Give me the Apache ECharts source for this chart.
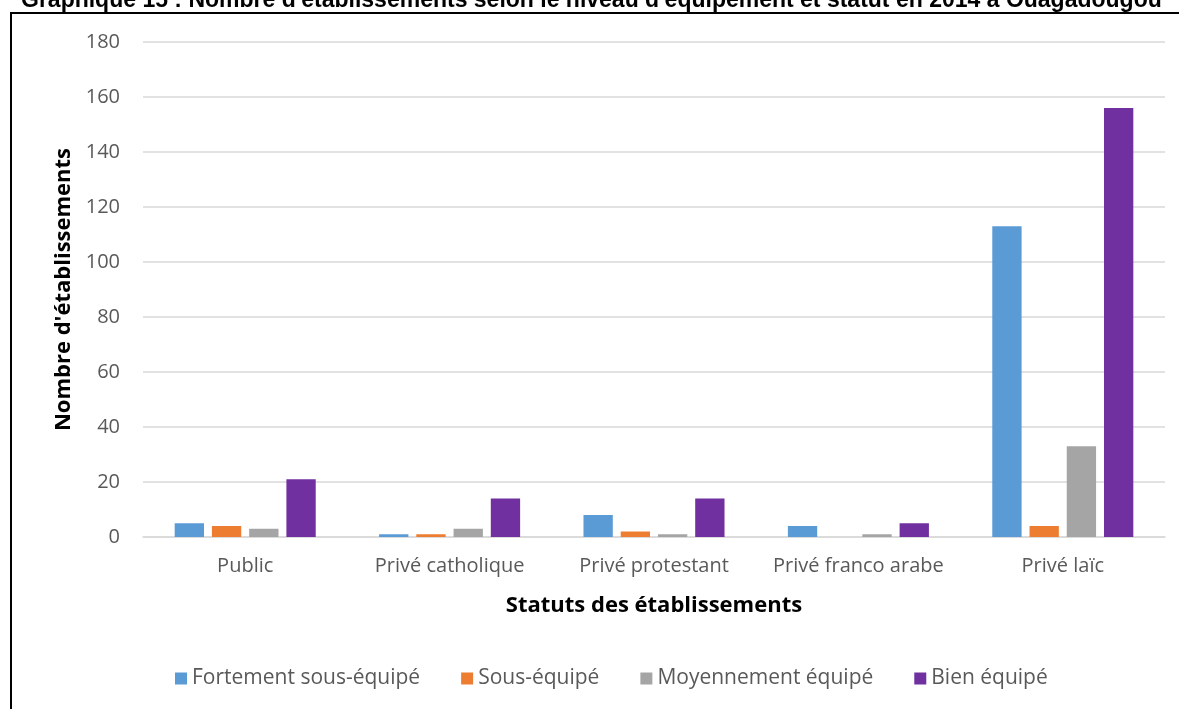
<!DOCTYPE html>
<html>
<head>
<meta charset="utf-8">
<script src="https://cdn.jsdelivr.net/npm/echarts@6/dist/echarts.min.js"></script>
<style>
  html, body { margin: 0; padding: 0; background: #fff; }
  #chart { width: 1179px; height: 709px; }
</style>
</head>
<body>
<div id="chart"></div>
<script>
// Établissements par statut et niveau d'équipement
const categories = ['Public', 'Privé catholique', 'Privé protestant', 'Privé franco arabe', 'Privé laïc'];
const fortementSousEquipe = [5, 1, 8, 4, 113];
const sousEquipe = [4, 1, 2, 0, 4];
const moyennementEquipe = [3, 3, 1, 1, 33];
const bienEquipe = [21, 14, 14, 5, 156];
const seriesNames = ['Fortement sous-équipé', 'Sous-équipé', 'Moyennement équipé', 'Bien équipé'];
const seriesColors = ['#5b9bd5', '#ed7d31', '#a5a5a5', '#7030a0'];

const font = '"Open Sans", "Liberation Sans", sans-serif';
const chart = echarts.init(document.getElementById('chart'), null, { renderer: 'canvas' });

const dataSets = [fortementSousEquipe, sousEquipe, moyennementEquipe, bienEquipe];

chart.setOption({
  backgroundColor: '#ffffff',
  animation: false,
  title: {
    text: "Graphique 15 : Nombre d'établissements selon le niveau d'équipement et statut en 2014 à Ouagadougou",
    left: 16,
    top: -16,
    textStyle: { fontFamily: '"Liberation Sans", Arial, sans-serif', fontWeight: 'bold', fontSize: 23, color: '#000' }
  },
  graphic: [{
    type: 'rect',
    shape: { x: 11, y: 13, width: 1200, height: 750 },
    style: { fill: 'none', stroke: '#000', lineWidth: 2 },
    silent: true,
    z: -1
  }],
  grid: { left: 143, right: 14, top: 42, bottom: 172, containLabel: false },
  legend: {
    data: seriesNames,
    bottom: 15,
    left: 170,
    itemWidth: 12,
    itemHeight: 12,
    itemGap: 41,
    icon: 'rect',
    textStyle: { fontFamily: font, fontSize: 21, color: '#595959' }
  },
  xAxis: {
    type: 'category',
    data: categories,
    name: 'Statuts des établissements',
    nameLocation: 'middle',
    nameGap: 58,
    nameTextStyle: { fontFamily: font, fontWeight: 'bold', fontSize: 22, color: '#000' },
    axisLine: { lineStyle: { color: '#d9d9d9', width: 1.5 } },
    axisTick: { show: false },
    axisLabel: { interval: 0, fontFamily: font, fontSize: 20, color: '#595959', margin: 19 }
  },
  yAxis: {
    type: 'value',
    min: 0,
    max: 180,
    interval: 20,
    name: "Nombre d'établissements",
    nameLocation: 'middle',
    nameGap: 68,
    nameRotate: 90,
    nameTextStyle: { fontFamily: font, fontWeight: 'bold', fontSize: 22, color: '#000' },
    axisLine: { show: false },
    axisTick: { show: false },
    axisLabel: { fontFamily: font, fontSize: 20, color: '#595959', margin: 23 },
    splitLine: { lineStyle: { color: '#d9d9d9', width: 1.5 } }
  },
  series: seriesNames.map((name, i) => ({
    name,
    type: 'bar',
    data: dataSets[i],
    barGap: '27%',
    barCategoryGap: '31%',
    itemStyle: { color: seriesColors[i] }
  }))
});
</script>
</body>
</html>
